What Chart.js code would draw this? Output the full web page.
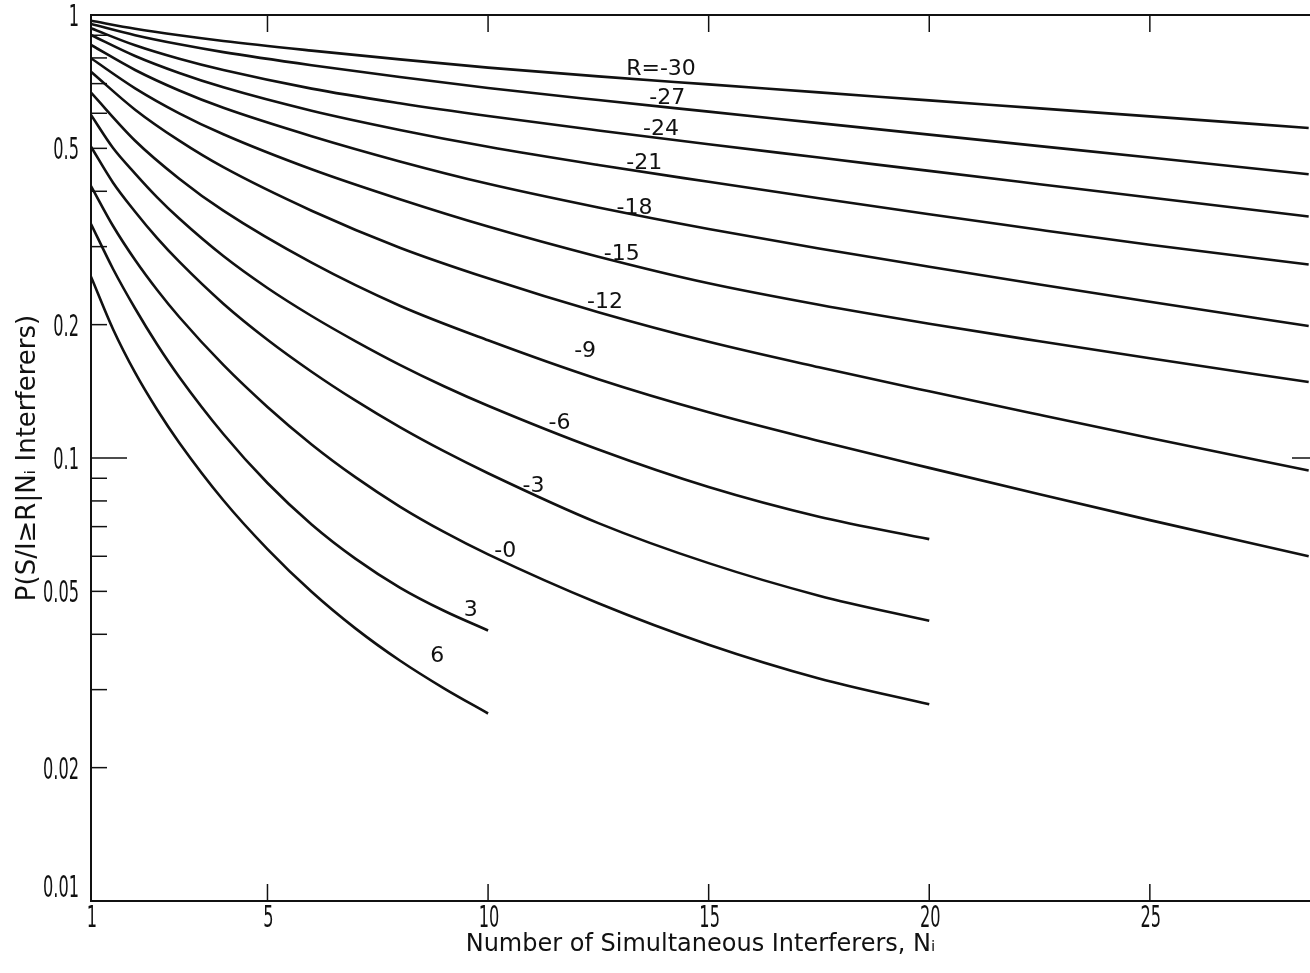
<!DOCTYPE html>
<html>
<head>
<meta charset="utf-8">
<script src="https://cdn.jsdelivr.net/npm/chart.js@4.4.0/dist/chart.umd.min.js"></script>
<style>
  html, body { margin: 0; padding: 0; background: #fff; }
  canvas { display: block; }
</style>
</head>
<body>
<canvas id="chart" width="1310" height="973"></canvas>
<script>
// number of simultaneous interferers (x values)
const nLong = [1, 2, 3, 4, 6, 8, 10, 12.5, 15, 17.5, 20, 22.5, 25, 28.6];
const nMid = [1, 1.5, 2, 2.5, 3, 4, 5, 6, 7, 8, 9, 10, 12.5, 15, 17.5, 20];
const nShort = [1, 1.5, 2, 2.5, 3, 4, 5, 6, 7, 8, 9, 10];

// P(S/I >= R | Ni)
const pR30 = [0.9708, 0.9313, 0.8999, 0.8736, 0.8311, 0.7939, 0.7608, 0.7268, 0.6971, 0.6688, 0.6415, 0.6154, 0.5903, 0.5558];
const pR27 = [0.9543, 0.9003, 0.8587, 0.8246, 0.7704, 0.7245, 0.6843, 0.6426, 0.6052, 0.5701, 0.5370, 0.5059, 0.4766, 0.4372];
const pR24 = [0.9332, 0.8543, 0.7964, 0.7510, 0.6821, 0.6323, 0.5916, 0.5487, 0.5107, 0.4766, 0.4447, 0.4150, 0.3873, 0.3509];
const pR21 = [0.9013, 0.8081, 0.7398, 0.6867, 0.6081, 0.5503, 0.5041, 0.4586, 0.4202, 0.3857, 0.3549, 0.3274, 0.3029, 0.2733];
const pR18 = [0.8556, 0.7514, 0.6754, 0.6173, 0.5326, 0.4672, 0.4159, 0.3677, 0.3288, 0.2971, 0.2702, 0.2464, 0.2252, 0.1986];
const pR15 = [0.7985, 0.6832, 0.6000, 0.5379, 0.4484, 0.3837, 0.3329, 0.2846, 0.2479, 0.2217, 0.2009, 0.1834, 0.1679, 0.1484];
const pR12 = [0.7447, 0.6113, 0.5203, 0.4533, 0.3616, 0.2984, 0.2545, 0.2133, 0.1829, 0.1602, 0.1414, 0.1252, 0.1110, 0.0937];
const pR9 = [0.6678, 0.5203, 0.4271, 0.3616, 0.2760, 0.2207, 0.1844, 0.1506, 0.1268, 0.1093, 0.0950, 0.0828, 0.0724, 0.0600];
const pR6 = [0.5947, 0.5009, 0.4387, 0.3877, 0.3472, 0.2857, 0.2420, 0.2092, 0.1834, 0.1623, 0.1452, 0.1312, 0.1045, 0.0860, 0.0737, 0.0656];
const pR3 = [0.5043, 0.4183, 0.3597, 0.3135, 0.2774, 0.2230, 0.1849, 0.1566, 0.1347, 0.1174, 0.1036, 0.0924, 0.0713, 0.0579, 0.0489, 0.0429];
const pR0 = [0.4111, 0.3340, 0.2799, 0.2395, 0.2081, 0.1622, 0.1304, 0.1073, 0.0904, 0.0777, 0.0681, 0.0606, 0.0470, 0.0379, 0.0318, 0.0278];
const pRp3 = [0.3375, 0.2671, 0.2175, 0.1804, 0.1524, 0.1133, 0.0878, 0.0708, 0.0592, 0.0510, 0.0452, 0.0408];
const pRp6 = [0.2566, 0.1953, 0.1558, 0.1285, 0.1083, 0.0803, 0.0623, 0.0499, 0.0412, 0.0349, 0.0302, 0.0265];

// curve labels and where they sit (N, P)
const curveLabels = ["R=-30", "-27", "-24", "-21", "-18", "-15", "-12", "-9", "-6", "-3", "-0", "3", "6"];
const labelN = [13.92, 14.06, 13.92, 13.54, 13.32, 13.03, 12.65, 12.2, 11.62, 11.03, 10.39, 9.61, 8.85];
const labelP = [0.756, 0.648, 0.553, 0.463, 0.367, 0.288, 0.225, 0.174, 0.12, 0.0863, 0.0616, 0.0454, 0.0356];

// axis ticks
const xTickValues = [1, 5, 10, 15, 20, 25];
const xTickLabels = ["1", "5", "10", "15", "20", "25"];
const yTickValues = [0.01, 0.02, 0.05, 0.1, 0.2, 0.5, 1];
const yTickLabels = ["0.01", "0.02", "0.05", "0.1", "0.2", "0.5", "1"];
const yMinorTicks = [0.03, 0.04, 0.06, 0.07, 0.08, 0.09, 0.3, 0.4, 0.6, 0.7, 0.8, 0.9];

const series = [
  { n: nLong, p: pR30 }, { n: nLong, p: pR27 }, { n: nLong, p: pR24 }, { n: nLong, p: pR21 },
  { n: nLong, p: pR18 }, { n: nLong, p: pR15 }, { n: nLong, p: pR12 }, { n: nLong, p: pR9 },
  { n: nMid, p: pR6 }, { n: nMid, p: pR3 }, { n: nMid, p: pR0 },
  { n: nShort, p: pRp3 }, { n: nShort, p: pRp6 }
];

const ink = "#111";
const tickFontCss = "31px 'DejaVu Sans Condensed', 'DejaVu Sans', sans-serif";
const labelFontCss = "22px 'DejaVu Sans', sans-serif";

// narrow lettering like the drafted original
function narrowText(ctx, text, px, py, align) {
  ctx.save();
  ctx.translate(px, py);
  ctx.scale(0.58, 1);
  ctx.textAlign = align;
  ctx.fillText(text, 0, 0);
  ctx.restore();
}

// inside tick marks, top frame, tick labels and curve labels
const inkPlugin = {
  id: "ink",
  afterDraw(chart) {
    const ctx = chart.ctx;
    const a = chart.chartArea;
    const x = chart.scales.x;
    const y = chart.scales.y;

    function seg(x1, y1, x2, y2) {
      ctx.beginPath();
      ctx.moveTo(x1, y1);
      ctx.lineTo(x2, y2);
      ctx.stroke();
    }

    ctx.save();
    ctx.strokeStyle = ink;
    ctx.lineWidth = 2;
    seg(a.left, a.top, a.right, a.top);

    ctx.lineWidth = 1.5;
    xTickValues.slice(1).forEach(function (v) {
      const px = x.getPixelForValue(v);
      seg(px, a.bottom, px, a.bottom - 17);
      seg(px, a.top, px, a.top + 17);
    });

    yTickValues.concat(yMinorTicks).forEach(function (v) {
      if (v === 1 || v === 0.01) return;
      const py = y.getPixelForValue(v);
      seg(a.left, py, a.left + (v === 0.1 ? 36 : 16), py);
    });
    const p01 = y.getPixelForValue(0.1);
    seg(a.right - 18, p01, a.right, p01);

    // tick labels
    ctx.fillStyle = ink;
    ctx.font = tickFontCss;
    ctx.textBaseline = "middle";
    yTickValues.forEach(function (v, i) {
      const py = y.getPixelForValue(v);
      narrowText(ctx, yTickLabels[i], a.left - 12, i === 0 ? py - 12 : py + 3, "right");
    });
    xTickValues.forEach(function (v, i) {
      narrowText(ctx, xTickLabels[i], x.getPixelForValue(v) + 1, a.bottom + 18, "center");
    });

    // curve labels
    ctx.font = labelFontCss;
    ctx.textAlign = "center";
    curveLabels.forEach(function (t, i) {
      ctx.fillText(t, x.getPixelForValue(labelN[i]), y.getPixelForValue(labelP[i]));
    });
    ctx.restore();
  }
};

new Chart(document.getElementById("chart"), {
  type: "scatter",
  data: {
    datasets: series.map(function (s) {
      return {
        data: s.n.map(function (n, i) { return { x: n, y: s.p[i] }; }),
        showLine: true,
        borderColor: ink,
        borderWidth: 2.6,
        pointRadius: 0,
        cubicInterpolationMode: "monotone",
        fill: false
      };
    })
  },
  options: {
    responsive: false,
    animation: false,
    devicePixelRatio: 1,
    layout: { padding: { top: 15, left: 0, right: 0, bottom: 0 } },
    plugins: { legend: { display: false }, tooltip: { enabled: false } },
    scales: {
      x: {
        type: "linear",
        min: 1,
        max: 28.63,
        afterFit: function (scale) {
          scale.height = 72;
          scale.paddingLeft = 0;
          scale.paddingRight = 0;
        },
        grid: { display: false, drawTicks: false },
        border: { display: true, color: ink, width: 2 },
        ticks: { display: false },
        title: {
          display: true,
          text: "Number of Simultaneous Interferers, N\u1D62",
          color: ink,
          font: { family: "'DejaVu Sans', sans-serif", size: 24 },
          padding: { top: 0, bottom: 14 }
        }
      },
      y: {
        type: "logarithmic",
        min: 0.01,
        max: 1,
        afterFit: function (scale) {
          scale.width = 91;
          scale.paddingTop = 0;
          scale.paddingBottom = 0;
        },
        grid: { display: false, drawTicks: false },
        border: { display: true, color: ink, width: 2 },
        ticks: { display: false },
        title: {
          display: true,
          text: "P(S/I\u2265R|N\u1D62 Interferers)",
          color: ink,
          font: { family: "'DejaVu Sans', sans-serif", size: 26 },
          padding: { top: 13, bottom: 0 }
        }
      }
    }
  },
  plugins: [inkPlugin]
});
</script>
</body>
</html>
